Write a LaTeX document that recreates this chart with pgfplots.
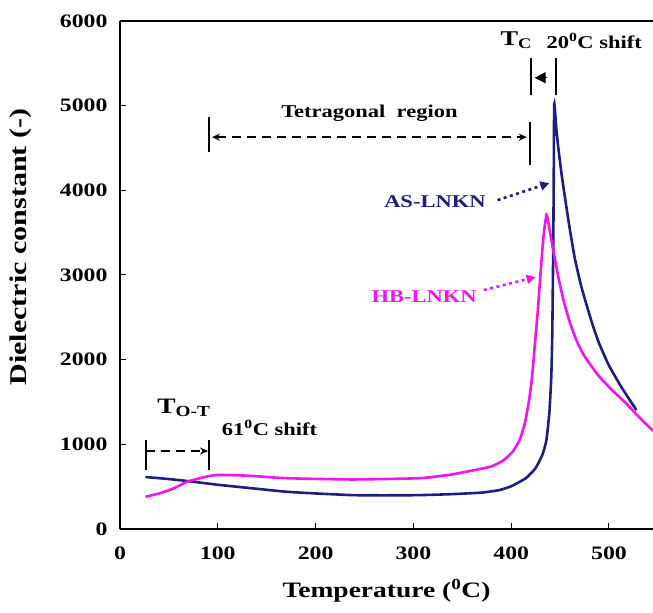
\documentclass[border=0pt]{standalone}
\usepackage{fontspec}
\setmainfont{Liberation Serif}[FakeStretch=1.25]
\usepackage{pgfplots}
\pgfplotsset{compat=1.18}
\usetikzlibrary{arrows.meta}
\definecolor{asnavy}{RGB}{30,30,130}
\definecolor{hbmag}{RGB}{240,20,240}
\begin{document}
\begin{tikzpicture}
\begin{axis}[
 scale only axis, width=533bp, height=508bp,
 xmin=0, xmax=545, ymin=0, ymax=6000,
 axis lines=left, axis line style={-, line width=2.5bp},
 xtick={0,100,...,500}, ytick={0,1000,...,6000},
 tick align=inside, major tick length=6bp, tick style={line width=1bp, black},
 ticklabel style={font=\fontsize{19bp}{21bp}\selectfont\bfseries},
 /pgf/number format/assume math mode=true,
 scaled ticks=false, /pgf/number format/1000 sep={},
 xticklabel style={yshift=-14bp},
 yticklabel style={xshift=-9bp},
 xlabel={Temperature (\textsuperscript{0}C)},
 ylabel={Dielectric constant (-)},
 xlabel style={font=\fontsize{22bp}{24bp}\selectfont\bfseries, at={(axis description cs:0.5,0)}, anchor=base, yshift=-68bp},
 ylabel style={font=\fontsize{24bp}{26bp}\selectfont\bfseries, at={(axis description cs:-0.186,0.555)}, anchor=center},
 clip=false,
]
\coordinate (ll) at (rel axis cs:0,0);
\coordinate (ur) at (rel axis cs:1,1);
\draw[line width=2.5bp] (rel axis cs:0,1) -- (rel axis cs:1,1);

% AS-LNKN
\addplot[asnavy, line width=2.6bp, smooth, tension=0.3] coordinates {
(26,614) (50,590) (70,565) (102,520) (140,475) (170,440) (200,420) (238,400)
(270,398) (306,400) (340,412) (370,430) (388,460) (400,505) (415,600) (425,720)
(432,880) (436,1050) (439,1370) (441,1800) (442,2300) (443,3330) (443.5,4120)
(444,5018) (446,4750) (448,4520) (452,4150) (459,3610) (465,3200) (472,2850)
(483,2420) (490,2190) (500,1930) (513,1670) (528,1405)
};
% HB-LNKN
\addplot[hbmag, line width=2.6bp, smooth, tension=0.3] coordinates {
(26,380) (40,420) (55,480) (68,555) (85,610) (99,638) (130,630) (170,600)
(238,585) (306,600) (337,640) (360,690) (380,740) (392,810) (402,920) (409,1060)
(414,1250) (418,1500) (421,1760) (424,2150) (427,2550) (430,3020) (433,3450) (436,3710)
(438,3620) (441,3420) (445,3170) (449,2930) (454,2680) (460,2440) (467,2220)
(475,2040) (490,1800) (505,1620) (517,1490) (530,1330) (545,1160)
};

\tikzset{ann/.style={inner sep=0, font=\fontsize{18bp}{20bp}\selectfont\bfseries},
  dsh/.style={line width=1.8bp, dash pattern=on 9bp off 6bp},
  dts/.style={line width=2.6bp, dash pattern=on 3bp off 3.5bp}}
% Tetragonal region
\draw[line width=2bp] (axis cs:91,4451) -- (axis cs:91,4864);
\draw[line width=2bp] (axis cs:419,4297) -- (axis cs:419,4805);
\draw[dsh, {Stealth[length=8bp,width=7bp]}-{Stealth[length=8bp,width=7bp]}] (axis cs:94,4628) -- (axis cs:416,4628);
\node[ann, anchor=base] at (axis cs:255,4860) {Tetragonal\ \ region};
% Tc
\draw[line width=2bp] (axis cs:420,5124) -- (axis cs:420,5560);
\draw[line width=2bp] (axis cs:446,5124) -- (axis cs:446,5560);
\draw[line width=1bp, -{Triangle[length=11bp,width=11bp]}] (axis cs:437,5330) -- (axis cs:424,5330);
\node[ann, anchor=base west, font=\fontsize{21bp}{22bp}\selectfont\bfseries] at (axis cs:389,5714) {T\textsubscript{C}};
\node[ann, anchor=base west] at (axis cs:436,5679) {20\textsuperscript{0}C shift};
% labels
\node[ann, anchor=base west, text=asnavy] at (axis cs:270,3800) {AS-LNKN};
\draw[asnavy, dts, -{Triangle[length=9bp,width=9bp]}] (axis cs:386,3884) -- (axis cs:439,4085);
\node[ann, anchor=base west, text=hbmag] at (axis cs:257,2680) {HB-LNKN};
\draw[hbmag, dts, -{Triangle[length=9bp,width=9bp]}] (axis cs:372,2822) -- (axis cs:425,2975);
% T O-T
\node[ann, anchor=base west, font=\fontsize{22bp}{24bp}\selectfont\bfseries] at (axis cs:38,1370) {T\textsubscript{O-T}};
\node[ann, anchor=base west] at (axis cs:104,1110) {61\textsuperscript{0}C shift};
\draw[line width=2bp] (axis cs:26.5,697) -- (axis cs:26.5,1050);
\draw[line width=2bp] (axis cs:91,697) -- (axis cs:91,1050);
\draw[dsh, -{Stealth[length=8bp,width=7bp]}] (axis cs:27,921) -- (axis cs:90,921);
\end{axis}
\pgfresetboundingbox
\path[use as bounding box] ([shift={(-120bp,-84bp)}]ll) rectangle ([shift={(0bp,21bp)}]ur);
\end{tikzpicture}
\end{document}
